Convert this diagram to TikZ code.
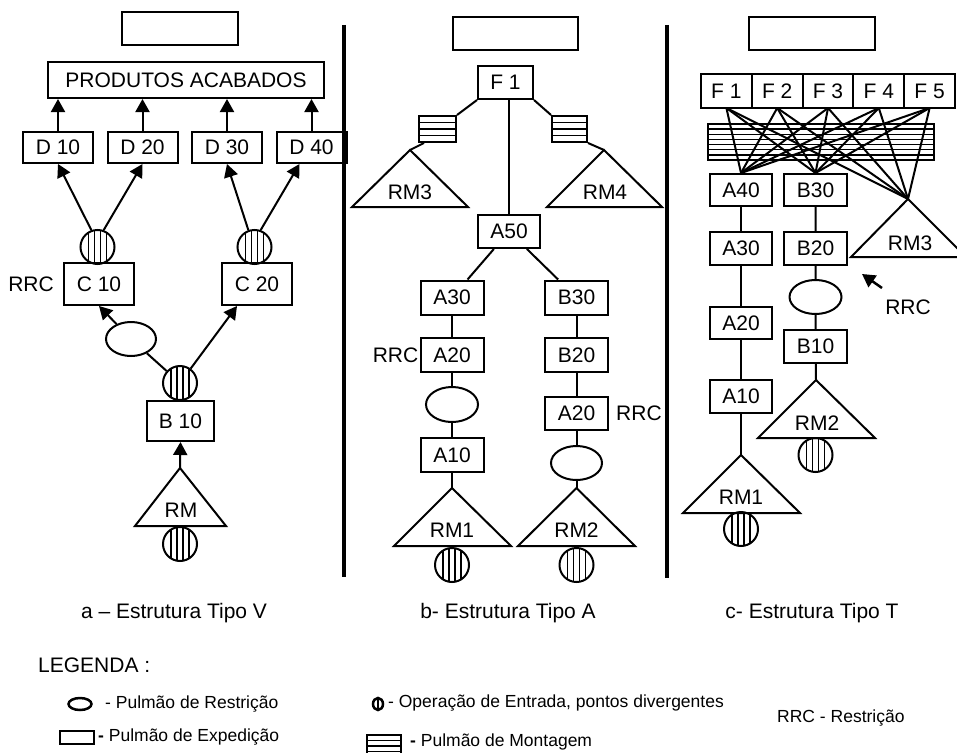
\documentclass[tikz,border=0pt]{standalone}
\usepackage{fontspec}
\setmainfont{Liberation Sans}
\usepackage{tikz}
\usetikzlibrary{arrows.meta,shapes,positioning,calc}
\tikzstyle{arrow} = [line width=2pt,-{Triangle[length=13pt,width=14pt]}]
\tikzstyle{link} = [line width=2pt]
\tikzstyle{divider} = [line width=3.5pt]
\tikzstyle{opbox} = [rectangle, draw, line width=2pt, inner sep=0pt, minimum width=63pt, minimum height=34pt]
\tikzstyle{dbox} = [opbox, minimum width=70pt, minimum height=31pt]
\tikzstyle{fbox} = [opbox, minimum width=50.8pt, minimum height=34pt, outer sep=0pt]
\tikzstyle{shipbox} = [rectangle, draw, line width=2pt, inner sep=0pt, minimum width=125pt, minimum height=33pt]
\tikzstyle{rbuf} = [ellipse, draw, line width=2pt, inner sep=0pt, minimum width=51pt, minimum height=34pt]
\tikzstyle{rmtri} = [draw, line width=2pt]
\tikzstyle{legtext} = [anchor=west, inner sep=0pt, font=\fontsize{17.5}{20}\selectfont]
\tikzset{
  opcirc/.style={circle, draw, line width=2pt, inner sep=0pt, minimum size=34pt,
    path picture={\foreach \dx in {-9,-3,3,9}
      \draw[line width=1.3pt] ([xshift=\dx pt]path picture bounding box.north) -- ([xshift=\dx pt]path picture bounding box.south);}},
  montage/.style={rectangle, draw, line width=2pt, inner sep=0pt,
    path picture={\foreach \hk in {1,...,#1}{
      \pgfmathsetmacro\fr{\hk/(#1+1)}
      \draw[line width=1.3pt] ($(path picture bounding box.north west)!\fr!(path picture bounding box.south west)$) -- ($(path picture bounding box.north east)!\fr!(path picture bounding box.south east)$);}}}
}

\begin{document}
\begin{tikzpicture}[x=1pt, y=-1pt, font=\fontsize{21}{24}\selectfont]
\clip (0,0) rectangle (957,752);

% a - Tipo V
\node (shipa) [shipbox, minimum width=116pt] at (180,28.5) {};
\node (pa) [opbox, minimum width=276pt, minimum height=36pt] at (186,80) {PRODUTOS ACABADOS};
\node (d10) [dbox] at (58,147.5) {D 10};
\node (d20) [dbox, right=12.5pt of d10] {D 20};
\node (d30) [dbox, right=12.5pt of d20] {D 30};
\node (d40) [dbox, right=12.5pt of d30] {D 40};
\node (opc1) [opcirc] at (97.5,247) {};
\node (opc2) [opcirc] at (254.5,247) {};
\node (c10) [opbox, minimum width=70pt, minimum height=42pt] at (99,284) {C 10};
\node (c20) [opbox, minimum width=70pt, minimum height=42pt] at (257,284) {C 20};
\node (rrca) [inner sep=0pt, left=9pt of c10] {RRC};
\node (rba) [rbuf, minimum width=50pt] at (131,339) {};
\node (opb) [opcirc] at (180,383) {};
\node (b10) [opbox, minimum width=67pt, minimum height=40pt] at (180.5,421) {B 10};
\draw[rmtri] (135,526) -- (180,468) coordinate (rmtop) -- (226,526) -- cycle;
\node (rm) at (181,510) {RM};
\node (oprm) [opcirc] at (180,544) {};

\foreach \d in {d10,d20,d30,d40}
  \draw[arrow] (\d.north) -- (\d.north |- pa.south);
\draw[arrow] (opc1.110) -- (d10.south);
\draw[arrow] (opc1.70) -- (d20.south);
\draw[arrow] (opc2.110) -- (d30.south);
\draw[arrow] (opc2.70) -- ([xshift=-12pt]d40.south);
\draw[link] (opb) -- (rba);
\draw[arrow] (rba) -- (c10.south);
\draw[arrow] (opb) -- ([xshift=-20pt]c20.south);
\draw[arrow] (rmtop) -- (b10.south);

\draw[divider] (344,25) -- (344,577);

% b - Tipo A
\node (shipb) [shipbox] at (515.5,33.5) {};
\node (f1b) [opbox, minimum width=55pt, minimum height=33pt] at (505.5,82.5) {F 1};
\node (mbl) [montage=3, minimum width=37pt, minimum height=26pt] at (437.5,129) {};
\node (mbr) [montage=3, minimum width=35pt, minimum height=26pt] at (569.5,129) {};
\draw[rmtri] (352,207) -- (410,150) coordinate (rm3top) -- (468,207) -- cycle;
\node (rm3b) at (410,192) {RM3};
\draw[rmtri] (547,207) -- (604,150) coordinate (rm4top) -- (662,207) -- cycle;
\node (rm4b) at (605,192) {RM4};
\node (a50) [opbox, minimum width=62pt, minimum height=33pt] at (509,231.5) {A50};
\node (a30b) [opbox] at (452,297.5) {A30};
\node (a20b) [opbox] at (452,355) {A20};
\node (rrcb1) [inner sep=0pt, left=1pt of a20b] {RRC};
\node (rbb1) [rbuf, minimum width=52pt, minimum height=35pt] at (452,404.5) {};
\node (a10b) [opbox] at (452,455) {A10};
\draw[rmtri] (394,546) -- (452,488) coordinate (rm1btop) -- (511,546) -- cycle;
\node (rm1b) at (452,530) {RM1};
\node (op1b) [opcirc] at (452,565) {};
\node (b30b) [opbox] at (576.5,297.5) {B30};
\node (b20b) [opbox] at (576.5,355) {B20};
\node (a20b2) [opbox, minimum height=33pt] at (576.5,413.5) {A20};
\node (rrcb2) [inner sep=0pt, right=7pt of a20b2] {RRC};
\node (rbb2) [rbuf] at (576.5,463) {};
\draw[rmtri] (518,546) -- (576.5,488) coordinate (rm2btop) -- (635,546) -- cycle;
\node (rm2b) at (576.5,530) {RM2};
\node (op2b) [opcirc] at (576.5,565) {};

\draw[link] (f1b.south west) -- (mbl.north east);
\draw[link] (f1b.south east) -- (mbr.north west);
\draw[link] ([xshift=6pt]mbl.south west) -- (rm3top);
\draw[link] (mbr.south east) -- (rm4top);
\draw[link] (f1b.south -| a50.north) -- (a50.north);
\draw[link] (a50) -- (a30b);
\draw[link] (a50) -- (b30b);
\draw[link] (a30b) -- (a20b) (a20b) -- (rbb1) (rbb1) -- (a10b) (a10b) -- (rm1btop);
\draw[link] (b30b) -- (b20b) (b20b) -- (a20b2) (a20b2) -- (rbb2) (rbb2) -- (rm2btop);

\draw[divider] (667,25) -- (667,578);

% c - Tipo T
\node (shipc) [shipbox, minimum width=126pt] at (812,33.5) {};
\node (f1c) [fbox] at (726.4,91) {F 1};
\node (f2c) [fbox, right=0pt of f1c] {F 2};
\node (f3c) [fbox, right=0pt of f2c] {F 3};
\node (f4c) [fbox, right=0pt of f3c] {F 4};
\node (f5c) [fbox, right=0pt of f4c] {F 5};
\node (mbc) [montage=6, minimum width=226pt, minimum height=36pt] at (821,142) {};
\node (a40c) [opbox, minimum width=62pt, minimum height=32pt] at (741,190) {A40};
\node (b30c) [opbox, minimum height=32pt] at (815.5,190) {B30};
\node (a30c) [opbox, minimum width=62pt, minimum height=33pt] at (741,248.5) {A30};
\node (b20c) [opbox, minimum height=33pt] at (815.5,248.5) {B20};
\draw[rmtri] (851,257) -- (908,199) coordinate (rm3ctop) -- (966,257) -- cycle;
\node (rm3c) at (910,243) {RM3};
\node (a20c) [opbox, minimum width=62pt, minimum height=32pt] at (741,323) {A20};
\node (a10c) [opbox, minimum width=62pt, minimum height=33pt] at (741,396.5) {A10};
\draw[rmtri] (683,513) -- (741,455) coordinate (rm1ctop) -- (800,513) -- cycle;
\node (rm1c) at (741,497) {RM1};
\node (op1c) [opcirc] at (741,529) {};
\node (rbc) [rbuf, minimum width=52pt] at (815.5,297) {};
\node (b10c) [opbox, minimum height=33pt] at (815.5,346.5) {B10};
\draw[rmtri] (758,438) -- (816,380) coordinate (rm2ctop) -- (875,438) -- cycle;
\node (rm2c) at (817,423) {RM2};
\node (op2c) [opcirc] at (815.5,455) {};
\node (rrcc) [inner sep=0pt] at (908,307) {RRC};
\coordinate (rrctail) at (882,288);

\foreach \f in {f1c,f2c,f3c,f4c,f5c}
  \foreach \t in {a40c.north,b30c.north,rm3ctop}
    \draw[link] (\f.south) -- (\t);
\draw[link] (a40c) -- (a30c) (a30c) -- (a20c) (a20c) -- (a10c) (a10c) -- (rm1ctop);
\draw[link] (b30c) -- (b20c) (b20c) -- (rbc) (rbc) -- (b10c) (b10c) -- (rm2ctop);
\draw[arrow, line width=2.5pt] (rrctail) -- ([shift={(14,8)}]b20c.south east);

% captions
\node (capa) at (174,613) {a – Estrutura Tipo V};
\node (capb) at (508,613) {b- Estrutura Tipo A};
\node (capc) at (812,613) {c- Estrutura Tipo T};

% legenda
\node (leg) [anchor=west, inner sep=0pt] at (38,665) {LEGENDA :};
\node (legrb) [rbuf, minimum width=23pt, minimum height=12pt, line width=2.5pt] at (80,704) {};
\node (legrbt) [legtext] at (105,704) {- Pulmão de Restrição};
\node (legship) [rectangle, draw, line width=2.5pt, inner sep=0pt, minimum width=34pt, minimum height=13pt] at (77,737.5) {};
\node (legshipt) [legtext] at (98,737) {\textbf{-} Pulmão de Expedição};
\node (legop) [ellipse, draw, line width=2.5pt, inner sep=0pt, minimum width=10pt, minimum height=12pt,
  path picture={\draw[line width=2pt] (path picture bounding box.north) -- (path picture bounding box.south);}] at (378,704) {};
\node (legopt) [legtext] at (388,703.5) {- Operação de Entrada, pontos divergentes};
\node (legmb) [montage=3, minimum width=34pt, minimum height=22pt] at (384,746) {};
\node (legmbt) [legtext] at (410,742) {\textbf{-} Pulmão de Montagem};
\node (legrrc) [legtext] at (777,718) {RRC - Restrição};
\end{tikzpicture}
\end{document}
